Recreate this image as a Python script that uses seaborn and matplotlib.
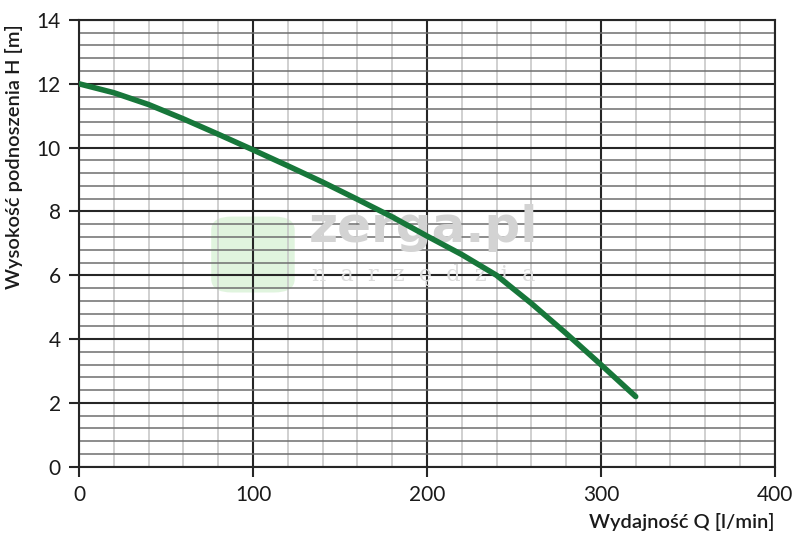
import matplotlib
matplotlib.use('Agg')
import matplotlib.pyplot as plt
import pandas as pd
import seaborn as sns
from matplotlib.ticker import MultipleLocator
from matplotlib.patches import FancyBboxPatch

# Pump curve
flow_q = [0, 20, 40, 60, 80, 100, 120, 140, 160, 180, 200, 220, 240, 260, 280, 300, 320]
head_h = [12.0, 11.72, 11.35, 10.9, 10.42, 9.93, 9.43, 8.92, 8.38, 7.83, 7.23, 6.65, 6.0, 5.12, 4.18, 3.2, 2.2]

x_label = 'Wydajność Q [l/min]'
y_label = 'Wysokość podnoszenia H [m]'

df = pd.DataFrame({'Q': flow_q, 'H': head_h})

sns.set_style('white')
plt.rcParams['font.family'] = ['Lato', 'DejaVu Sans']

fig, ax = plt.subplots(figsize=(7.98, 5.39), dpi=100)
fig.subplots_adjust(left=0.099, right=0.971, top=0.963, bottom=0.134)

# Watermark
logo = FancyBboxPatch((0.2, 0.4), 0.1, 0.15, boxstyle='round,pad=0.01,rounding_size=0.03',
                      transform=ax.transAxes, facecolor='#c8ecc4', edgecolor='none',
                      alpha=0.55, zorder=0.5)
ax.add_patch(logo)
ax.text(0.33, 0.535, 'zerga.pl', transform=ax.transAxes, fontsize=36, fontweight='bold',
        family='DejaVu Sans', color='#d3d3d3', va='center', ha='left', zorder=0.6)
ax.text(0.335, 0.43, 'n  a  r  z  ę  d  z  i  a', transform=ax.transAxes, fontsize=16,
        family='DejaVu Serif', color='#dcdcdc', va='center', ha='left', zorder=0.6)

sns.lineplot(data=df, x='Q', y='H', ax=ax, color='#17773a', linewidth=4,
             solid_capstyle='round', zorder=5)

ax.set_xlim(0, 400)
ax.set_ylim(0, 14)
ax.xaxis.set_major_locator(MultipleLocator(100))
ax.xaxis.set_minor_locator(MultipleLocator(20))
ax.yaxis.set_major_locator(MultipleLocator(2))
ax.yaxis.set_minor_locator(MultipleLocator(0.4))

ax.xaxis.grid(True, which='minor', color='#c4c4c4', linewidth=1.1, zorder=1)
ax.yaxis.grid(True, which='minor', color='#6e6e6e', linewidth=1.1, zorder=1)
ax.grid(True, which='major', color='#262626', linewidth=1.5, zorder=2)
ax.set_axisbelow(True)

for sp in ax.spines.values():
    sp.set_color('#262626')
    sp.set_linewidth(1.5)

ax.tick_params(which='major', direction='out', length=7, width=1.5, color='#262626',
               labelsize=15, labelcolor='#1a1a1a', pad=6, left=True, bottom=True)
ax.tick_params(which='minor', length=0)

ax.set_xlabel(x_label, loc='right', fontsize=14.5, fontweight='semibold',
              color='#1a1a1a', labelpad=6)
ax.set_ylabel(y_label, loc='top', fontsize=14.5, fontweight='semibold',
              color='#1a1a1a', labelpad=10)
ax.yaxis.label.set_y(0.99)

fig.savefig('out.png', dpi=100)
